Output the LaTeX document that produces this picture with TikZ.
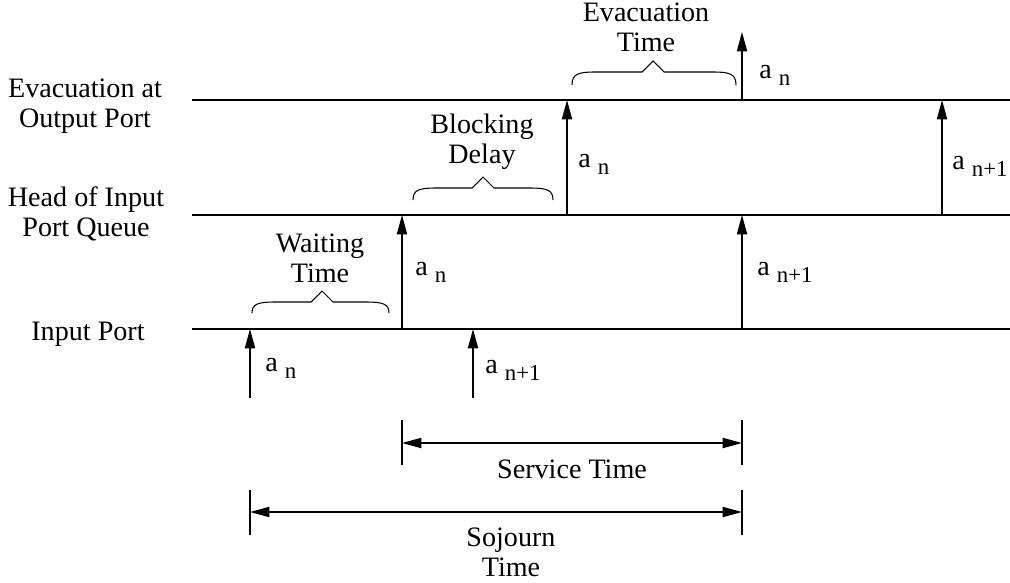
\documentclass[tikz,border=0pt]{standalone}
\usepackage{fontspec}
\setmainfont{Liberation Serif}
\usetikzlibrary{arrows.meta}
\newcommand\asub[1]{a\hspace{4pt}\raisebox{-4.3pt}{\fontsize{13}{15}\selectfont #1}}
% #1 x-left, #2 x-right, #3 x-tip, #4 y of curled ends, #5 y of straight part
\newcommand\mybrace[5]{%
  \draw[brc] (#1,#4) .. controls (#1,#5+2) and (#1+6,#5) .. (#1+23,#5)
    -- (#3-11,#5) -- (#3,#5-11) -- (#3+11,#5) -- (#2-23,#5)
    .. controls (#2-6,#5) and (#2,#5+2) .. (#2,#4);}
\begin{document}
\begin{tikzpicture}[x=0.02cm,y=-0.02cm,
  hline/.style={line width=1.1pt},
  arr/.style={line width=0.75pt,-{Triangle[length=11pt,width=5.8pt]}},
  dimline/.style={line width=0.75pt,{Triangle[length=11pt,width=5.8pt]}-{Triangle[length=11pt,width=5.8pt]}},
  tickline/.style={line width=0.6pt},
  brc/.style={line width=0.6pt},
  ttl/.style={font=\fontsize{16}{17}\selectfont, align=center, inner sep=0pt, anchor=base},
  albl/.style={font=\fontsize{16}{18}\selectfont, inner sep=0pt, anchor=base west}]
\useasboundingbox (0,0) rectangle (1010,582);

% horizontal time lines
\coordinate (opL) at (192,100);  \coordinate (opR) at (1010,100);
\coordinate (hdL) at (192,215);  \coordinate (hdR) at (1010,215);
\coordinate (inL) at (192,329);  \coordinate (inR) at (1010,329);
\draw[hline] (opL) -- (opR);
\draw[hline] (hdL) -- (hdR);
\draw[hline] (inL) -- (inR);

% row titles (anchor = baseline of last line)
\node[ttl] (tOut) at (85,127) {Evacuation at\\Output Port};
\node[ttl] (tHead) at (86,236) {Head of Input\\Port Queue};
\node[ttl] (tIn) at (88,340) {Input Port};

% arrival arrows
\coordinate (a1s) at (250,398); \coordinate (a1e) at (250,329);
\coordinate (a2s) at (473,398); \coordinate (a2e) at (473,329);
\coordinate (a3s) at (402,329); \coordinate (a3e) at (402,215);
\coordinate (a4s) at (742,329); \coordinate (a4e) at (742,215);
\coordinate (a5s) at (567,215); \coordinate (a5e) at (567,100);
\coordinate (a6s) at (942,215); \coordinate (a6e) at (942,100);
\coordinate (a7s) at (742,100); \coordinate (a7e) at (742,32);
\draw[arr] (a1s) -- (a1e);
\draw[arr] (a2s) -- (a2e);
\draw[arr] (a3s) -- (a3e);
\draw[arr] (a4s) -- (a4e);
\draw[arr] (a5s) -- (a5e);
\draw[arr] (a6s) -- (a6e);
\draw[arr] (a7s) -- (a7e);

% arrow labels
\node[albl] (l1) at (265,371) {\asub{n}};
\node[albl] (l2) at (485,373) {\asub{n+1}};
\node[albl] (l3) at (415,275) {\asub{n}};
\node[albl] (l4) at (757,275) {\asub{n+1}};
\node[albl] (l5) at (578,167) {\asub{n}};
\node[albl] (l6) at (952,169) {\asub{n+1}};
\node[albl] (l7) at (759,78) {\asub{n}};

% braces and their texts
\mybrace{252}{389}{322}{313}{302}
\node[ttl] (tWait) at (320,282) {Waiting\\Time};
\mybrace{413}{553}{483}{200}{188}
\node[ttl] (tBlock) at (482,163) {Blocking\\Delay};
\mybrace{572}{736}{653}{85}{72}
\node[ttl] (tEvac) at (646,51) {Evacuation\\Time};

% service time
\coordinate (sT1a) at (402,420); \coordinate (sT1b) at (402,465);
\coordinate (sT2a) at (742,420); \coordinate (sT2b) at (742,465);
\coordinate (sL) at (402,443); \coordinate (sR) at (742,443);
\draw[tickline] (sT1a) -- (sT1b);
\draw[tickline] (sT2a) -- (sT2b);
\draw[dimline] (sL) -- (sR);
\node[ttl] (tServ) at (572,478) {Service Time};

% sojourn time
\coordinate (jT1a) at (250,490); \coordinate (jT1b) at (250,535);
\coordinate (jT2a) at (742,490); \coordinate (jT2b) at (742,535);
\coordinate (jL) at (250,512); \coordinate (jR) at (742,512);
\draw[tickline] (jT1a) -- (jT1b);
\draw[tickline] (jT2a) -- (jT2b);
\draw[dimline] (jL) -- (jR);
\node[ttl] (tSoj) at (511,576) {Sojourn\\Time};
\end{tikzpicture}
\end{document}
